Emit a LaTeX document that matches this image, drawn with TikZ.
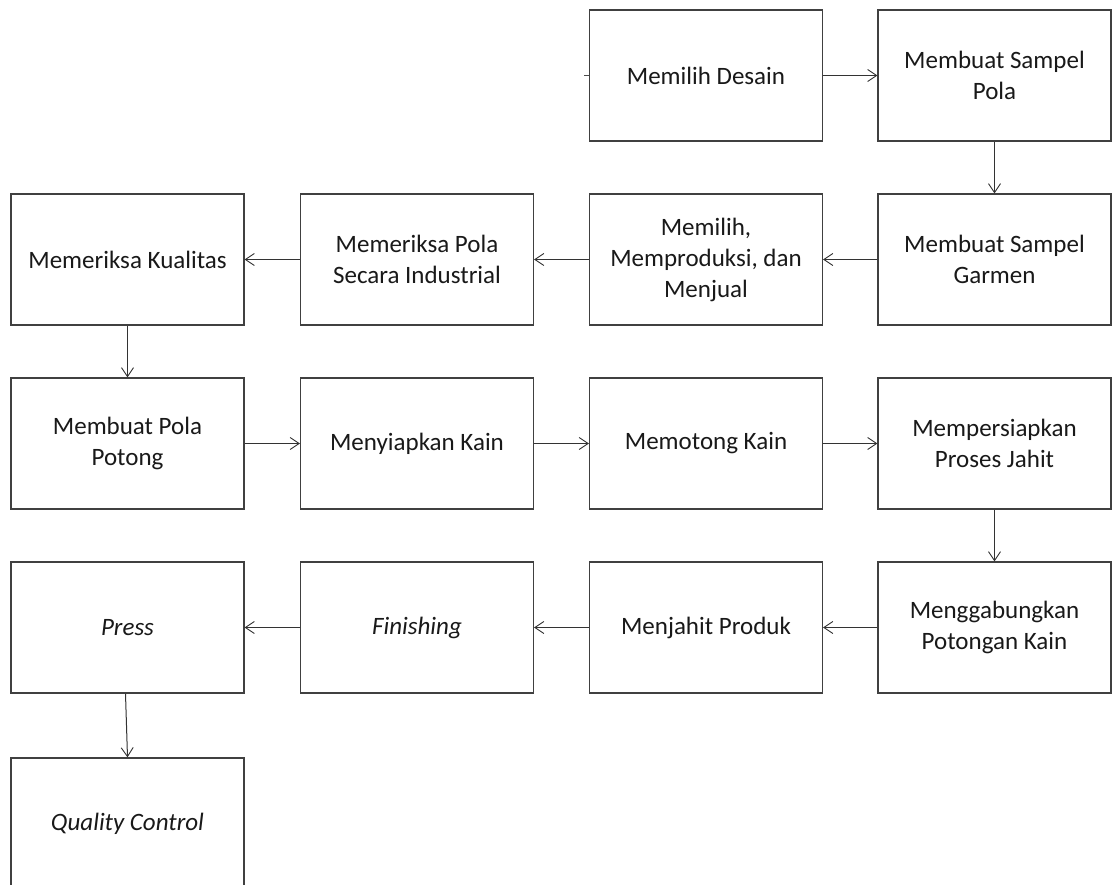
\documentclass[tikz,border=0pt]{standalone}
\usepackage{fontspec}
\setmainfont{Carlito}
\usetikzlibrary{arrows.meta}
\begin{document}
\begin{tikzpicture}[x=1pt,y=-1pt,
  box/.style={draw=black!75, line width=1.2pt, fill=white, minimum width=233pt, minimum height=131pt,
    inner sep=0pt, align=center, text=black!90, font=\fontsize{25}{31}\selectfont},
  conn/.style={draw=black!80, line width=1pt, -{Straight Barb[length=9pt,width=12pt,line width=0.9pt]}}]
\useasboundingbox (0,0) rectangle (1112,885);
\fill[white] (0,0) rectangle (1112,885);
% row 1
\node[box] (desain) at (706,75.5) {Memilih Desain};
\node[box] (spola) at (994.5,75.5) {Membuat Sampel\\Pola};
% row 2
\node[box] (sgarmen) at (994.5,259.5) {Membuat Sampel\\Garmen};
\node[box] (memilih) at (706,259.5) {Memilih,\\Memproduksi, dan\\Menjual};
\node[box] (periksapola) at (417,259.5) {Memeriksa Pola\\Secara Industrial};
\node[box] (kualitas) at (127.5,259.5) {Memeriksa Kualitas};
% row 3
\node[box] (potong) at (127.5,443.5) {Membuat Pola\\Potong};
\node[box] (siapkain) at (417,443.5) {Menyiapkan Kain};
\node[box] (memotong) at (706,443.5) {Memotong Kain};
\node[box] (jahit) at (994.5,443.5) {Mempersiapkan\\Proses Jahit};
% row 4
\node[box] (gabung) at (994.5,627.5) {Menggabungkan\\Potongan Kain};
\node[box] (menjahit) at (706,627.5) {Menjahit Produk};
\node[box] (finishing) at (417,627.5) {\itshape Finishing};
\node[box] (press) at (127.5,627.5) {\itshape Press};
% row 5
\node[box] (qc) at (127.5,823.5) {\itshape Quality Control};
% stub
\coordinate (stub) at (584,75.5);
\draw[draw=black!70, line width=1pt] (stub) -- (desain.west);
% connectors
\draw[conn] (desain) -- (spola);
\draw[conn] (spola) -- (sgarmen);
\draw[conn] (sgarmen) -- (memilih);
\draw[conn] (memilih) -- (periksapola);
\draw[conn] (periksapola) -- (kualitas);
\draw[conn] (kualitas) -- (potong);
\draw[conn] (potong) -- (siapkain);
\draw[conn] (siapkain) -- (memotong);
\draw[conn] (memotong) -- (jahit);
\draw[conn] (jahit) -- (gabung);
\draw[conn] (gabung) -- (menjahit);
\draw[conn] (menjahit) -- (finishing);
\draw[conn] (finishing) -- (press);
\draw[conn] ([xshift=-2pt]press.south) -- (qc.north);
\end{tikzpicture}
\end{document}
